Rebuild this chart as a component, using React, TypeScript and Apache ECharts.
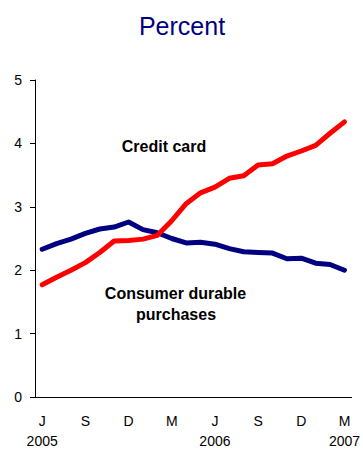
import React, { useEffect, useRef } from "react";
import * as echarts from "echarts";

const months = [
  "2005-06", "2005-07", "2005-08", "2005-09", "2005-10", "2005-11", "2005-12",
  "2006-01", "2006-02", "2006-03", "2006-04", "2006-05", "2006-06", "2006-07",
  "2006-08", "2006-09", "2006-10", "2006-11", "2006-12", "2007-01", "2007-02",
  "2007-03",
];
const consumerDurable = [
  2.33, 2.42, 2.49, 2.58, 2.65, 2.68, 2.76, 2.64, 2.59, 2.5, 2.43, 2.44, 2.41,
  2.34, 2.29, 2.28, 2.27, 2.18, 2.19, 2.11, 2.09, 2.0,
];
const creditCard = [
  1.77, 1.89, 2.0, 2.12, 2.28, 2.46, 2.47, 2.49, 2.55, 2.78, 3.05, 3.22, 3.31,
  3.45, 3.49, 3.66, 3.68, 3.8, 3.88, 3.97, 4.16, 4.34,
];
const labeledMonthEvery = 3;
const yearLabelAt = [0, 12, 21];
const monthLetters = ["J", "F", "M", "A", "M", "J", "J", "A", "S", "O", "N", "D"];

const FONT = '"Liberation Sans", Arial, sans-serif';

export default function App() {
  const ref = useRef<HTMLDivElement>(null);
  useEffect(() => {
    if (!ref.current) return;
    const chart = echarts.init(ref.current, null, { renderer: "svg" });
    chart.setOption({
      animation: false,
      backgroundColor: "#ffffff",
      grid: { left: 35, right: 10, top: 80, bottom: 52, containLabel: false },
      xAxis: {
        type: "category",
        data: months,
        boundaryGap: true,
        axisLine: { show: true, lineStyle: { color: "#000", width: 1 } },
        axisTick: { show: false },
        splitLine: { show: false },
        axisLabel: {
          interval: (i: number) => i % labeledMonthEvery === 0,
          margin: 14,
          fontSize: 14,
          lineHeight: 20,
          color: "#000",
          fontFamily: FONT,
          formatter: (v: string, i: number) => {
            const m = parseInt(v.slice(5), 10);
            const letter = monthLetters[m - 1];
            return yearLabelAt.includes(i) ? letter + "\n" + v.slice(0, 4) : letter;
          },
        },
      },
      yAxis: {
        type: "value",
        min: 0,
        max: 5,
        interval: 1,
        axisLine: { show: true, lineStyle: { color: "#000", width: 1 } },
        axisTick: { show: true, length: 5, lineStyle: { color: "#000" } },
        splitLine: { show: false },
        axisLabel: { margin: 13, fontSize: 14, color: "#000", fontFamily: FONT },
      },
      series: [
        {
          name: "Consumer durable purchases",
          type: "line",
          data: consumerDurable,
          symbol: "none",
          lineStyle: { color: "#000080", width: 5, cap: "round", join: "round" },
          itemStyle: { color: "#000080" },
        },
        {
          name: "Credit card",
          type: "line",
          data: creditCard,
          symbol: "none",
          lineStyle: { color: "#ff0000", width: 5, cap: "round", join: "round" },
          itemStyle: { color: "#ff0000" },
        },
      ],
      graphic: [
        {
          type: "text",
          x: 182,
          y: 26,
          style: {
            text: "Percent",
            fill: "#000080",
            font: `25px ${FONT}`,
            textAlign: "center",
            textVerticalAlign: "middle",
          },
        },
        {
          type: "text",
          x: 164,
          y: 146,
          style: {
            text: "Credit card",
            fill: "#000",
            font: `bold 16px ${FONT}`,
            textAlign: "center",
            textVerticalAlign: "middle",
          },
        },
        {
          type: "text",
          x: 175.5,
          y: 293,
          style: {
            text: "Consumer durable",
            fill: "#000",
            font: `bold 16px ${FONT}`,
            textAlign: "center",
            textVerticalAlign: "middle",
          },
        },
        {
          type: "text",
          x: 176,
          y: 314.5,
          style: {
            text: "purchases",
            fill: "#000",
            font: `bold 16px ${FONT}`,
            textAlign: "center",
            textVerticalAlign: "middle",
          },
        },
      ],
    });
    return () => chart.dispose();
  }, []);
  return (
    <div
      ref={ref}
      style={{ position: "absolute", left: 0, top: 0, width: 363, height: 451 }}
    />
  );
}
